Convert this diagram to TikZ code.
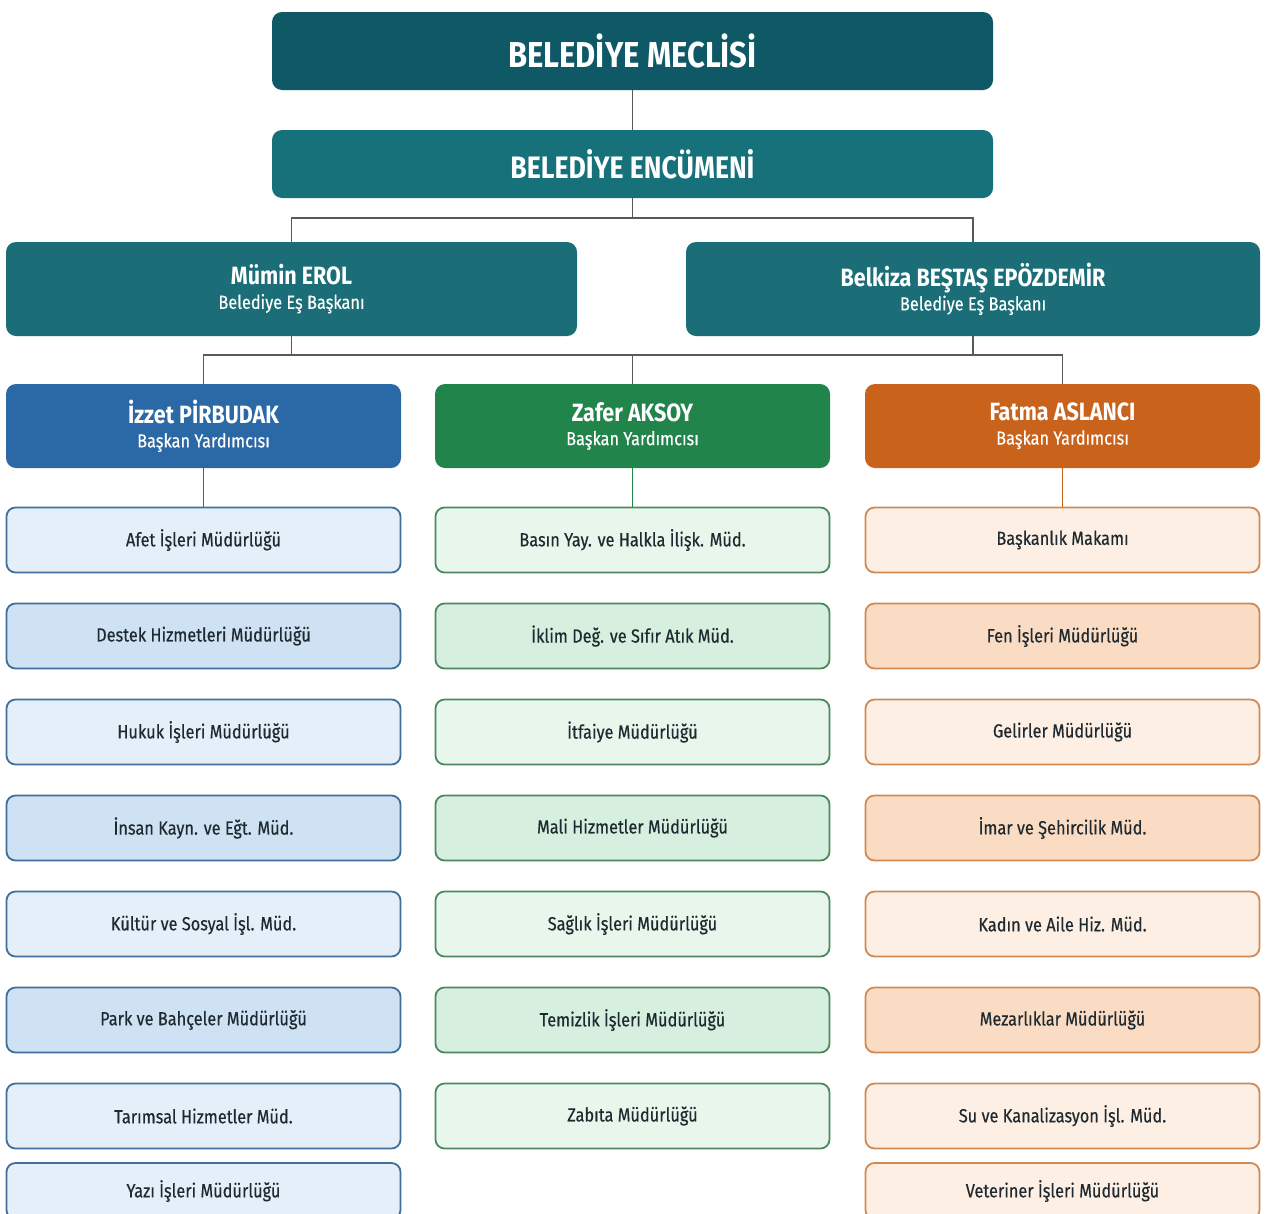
\documentclass[tikz,border=0pt]{standalone}
\usepackage{fontspec}
\setmainfont{Fira Sans}[FakeStretch=0.86,UprightFeatures={FakeBold=0.4}]
\usepackage{tikz}
\usetikzlibrary{positioning}

\definecolor{meclis}{HTML}{0F5865}
\definecolor{encumen}{HTML}{17717B}
\definecolor{esbaskan}{HTML}{1B6E78}
\definecolor{hatgri}{HTML}{555A5C}
\definecolor{mavi}{HTML}{2B69A6}
\definecolor{mavikenar}{HTML}{3F6F9C}
\definecolor{maviA}{HTML}{E4EFF9}
\definecolor{maviB}{HTML}{CFE2F4}
\definecolor{yesil}{HTML}{21844B}
\definecolor{yesilkenar}{HTML}{4A8A5E}
\definecolor{yesilA}{HTML}{E8F6EC}
\definecolor{yesilB}{HTML}{D6EFDE}
\definecolor{turuncu}{HTML}{C9621B}
\definecolor{turuncukenar}{HTML}{CF8A55}
\definecolor{turuncuA}{HTML}{FDEFE4}
\definecolor{turuncuB}{HTML}{FADCC4}
\definecolor{yazi}{HTML}{1F2A30}

\begin{document}
\begin{tikzpicture}[x=1pt,y=-1pt,
  kurul/.style={rounded corners=10pt,text=white,inner sep=0pt,
    minimum width=721pt,font=\bfseries\fontsize{36}{38}\selectfont},
  kisi/.style={rounded corners=10pt,text=white,inner sep=0pt,align=center,
    font=\fontsize{19}{24}\selectfont},
  birim/.style={rounded corners=9pt,line width=1.8pt,inner sep=0pt,text=yazi,
    minimum width=394pt,minimum height=65pt,font=\fontsize{19}{21}\selectfont},
  hat/.style={draw=hatgri,line width=1.6pt}]
  \useasboundingbox[fill=white] (0,0) rectangle (1265,1213);

  % meclis and encumen
  \node[kurul,fill=meclis,minimum height=78pt] (meclis) at (632.5,51) {BELEDİYE MECLİSİ};
  \node[kurul,fill=encumen,minimum height=68pt,font=\bfseries\fontsize{31}{34}\selectfont]
    (encumen) at (632.5,164) {BELEDİYE ENCÜMENİ};

  % co-chairs
  \node[kisi,fill=esbaskan,minimum width=571pt,minimum height=94pt] (erol) at (291.5,289)
    {{\bfseries\fontsize{25}{28}\selectfont Mümin EROL}\\Belediye Eş Başkanı};
  \node[kisi,fill=esbaskan,minimum width=574pt,minimum height=94pt] (belkiza) at (973,289)
    {{\bfseries\fontsize{25}{28}\selectfont Belkiza BEŞTAŞ EPÖZDEMİR}\\Belediye Eş Başkanı};

  % deputies
  \node[kisi,fill=mavi,minimum width=395pt,minimum height=84pt] (izzet) at (203.5,426)
    {{\bfseries\fontsize{25}{28}\selectfont İzzet PİRBUDAK}\\Başkan Yardımcısı};
  \node[kisi,fill=yesil,minimum width=395pt,minimum height=84pt] (zafer) at (632.5,426)
    {{\bfseries\fontsize{25}{28}\selectfont Zafer AKSOY}\\Başkan Yardımcısı};
  \node[kisi,fill=turuncu,minimum width=395pt,minimum height=84pt] (fatma) at (1062.5,426)
    {{\bfseries\fontsize{25}{28}\selectfont Fatma ASLANCI}\\Başkan Yardımcısı};

  % directorates
  \foreach \i/\t/\f in {1/Afet İşleri Müdürlüğü/maviA, 2/Destek Hizmetleri Müdürlüğü/maviB,
      3/Hukuk İşleri Müdürlüğü/maviA, 4/İnsan Kayn. ve Eğt. Müd./maviB,
      5/Kültür ve Sosyal İşl. Müd./maviA, 6/Park ve Bahçeler Müdürlüğü/maviB,
      7/Tarımsal Hizmetler Müd./maviA}
    \node[birim,draw=mavikenar,fill=\f] (b\i) at (203.5,444+96*\i) {\t};
  \foreach \i/\t/\f in {1/Basın Yay. ve Halkla İlişk. Müd./yesilA, 2/İklim Değ. ve Sıfır Atık Müd./yesilB,
      3/İtfaiye Müdürlüğü/yesilA, 4/Mali Hizmetler Müdürlüğü/yesilB,
      5/Sağlık İşleri Müdürlüğü/yesilA, 6/Temizlik İşleri Müdürlüğü/yesilB,
      7/Zabıta Müdürlüğü/yesilA}
    \node[birim,draw=yesilkenar,fill=\f] (y\i) at (632.5,444+96*\i) {\t};
  \foreach \i/\t/\f in {1/Başkanlık Makamı/turuncuA, 2/Fen İşleri Müdürlüğü/turuncuB,
      3/Gelirler Müdürlüğü/turuncuA, 4/İmar ve Şehircilik Müd./turuncuB,
      5/Kadın ve Aile Hiz. Müd./turuncuA, 6/Mezarlıklar Müdürlüğü/turuncuB,
      7/Su ve Kanalizasyon İşl. Müd./turuncuA}
    \node[birim,draw=turuncukenar,fill=\f] (t\i) at (1062.5,444+96*\i) {\t};
  \node[birim,draw=mavikenar,fill=maviA,minimum height=56pt] (b8) at (203.5,1191) {Yazı İşleri Müdürlüğü};
  \node[birim,draw=turuncukenar,fill=turuncuA,minimum height=56pt] (t8) at (1062.5,1191) {Veteriner İşleri Müdürlüğü};

  % connectors
  \draw[hat] (meclis) -- (encumen);
  \draw[hat] (encumen.south) -- ++(0,20) coordinate (j1);
  \draw[hat] (erol.north) |- (j1) -| (belkiza.north);
  \draw[hat] (erol.south) -- ++(0,19) coordinate (j2);
  \draw[hat] (izzet.north) |- (j2) -| (fatma.north);
  \draw[hat] (zafer.north) -- (zafer.north |- j2);
  \draw[hat] (belkiza.south) -- (belkiza.south |- j2);
  \draw[line width=1.6pt,mavi] (izzet) -- (b1);
  \draw[line width=1.6pt,yesil] (zafer) -- (y1);
  \draw[line width=1.6pt,turuncu] (fatma) -- (t1);
\end{tikzpicture}
\end{document}
